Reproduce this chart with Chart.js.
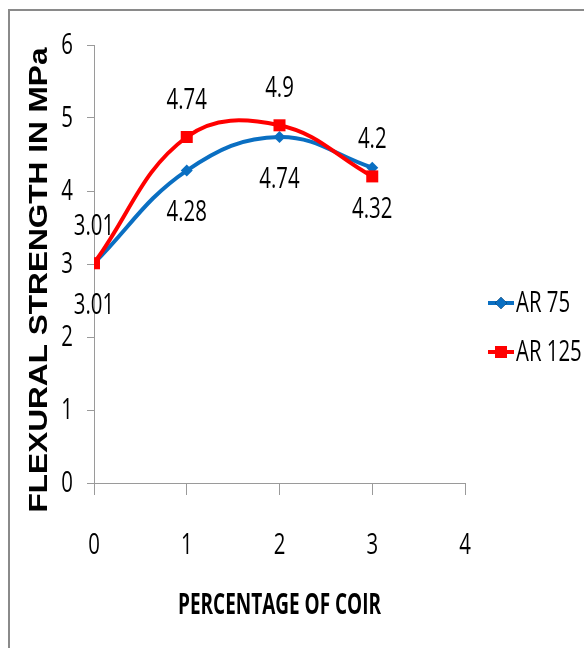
<!DOCTYPE html>
<html>
<head>
<meta charset="utf-8">
<script src="https://cdn.jsdelivr.net/npm/chart.js@4/dist/chart.umd.min.js"></script>
<style>
  html, body { margin: 0; padding: 0; background: #fff; }
  #wrap { position: relative; width: 584px; height: 648px; }
</style>
</head>
<body>
<div id="wrap"><canvas id="c" width="584" height="648"></canvas></div>
<script>
// ---- data ----
const coirPercent = [0, 1, 2, 3];
const ar75 = [3.01, 4.28, 4.74, 4.32];
const ar125 = [3.01, 4.74, 4.9, 4.2];
const seriesNames = ['AR 75', 'AR 125'];
const xTitle = 'PERCENTAGE OF COIR';
const yTitle = 'FLEXURAL STRENGTH IN MPa';

const FONT = "'Open Sans', 'Noto Sans', sans-serif";
const SX = 0.68; // horizontal squeeze to mimic a condensed face
const BLUE = '#0A6FC2';
const RED = '#FF0000';
const AXIS = '#9a9a9a';

function toPoints(xs, ys) { return xs.map((x, i) => ({ x: x, y: ys[i] })); }

function drawFit(ctx, text, cx, cy, font, targetW, rot) {
  ctx.save();
  ctx.font = font;
  const w = ctx.measureText(text).width;
  ctx.translate(cx, cy);
  if (rot) ctx.rotate(rot);
  ctx.scale(targetW / w, 1);
  ctx.textAlign = 'center';
  ctx.textBaseline = 'middle';
  ctx.fillStyle = '#000';
  ctx.fillText(text, 0, 0);
  ctx.restore();
}

function drawNarrow(ctx, text, x, y, align) {
  ctx.save();
  ctx.font = '30px ' + FONT;
  ctx.translate(x, y);
  ctx.scale(SX, 1);
  ctx.textAlign = align;
  ctx.textBaseline = 'middle';
  ctx.fillStyle = '#000';
  ctx.fillText(text, 0, 0);
  ctx.restore();
}

const decor = {
  id: 'decor',
  beforeDraw(chart) {
    const ctx = chart.ctx;
    ctx.save();
    ctx.fillStyle = '#fff';
    ctx.fillRect(0, 0, chart.width, chart.height);
    ctx.fillStyle = '#8a8a8a';
    ctx.fillRect(8, 9, chart.width - 8, 2);
    ctx.fillRect(8, 9, 2, chart.height - 9);
    ctx.restore();
  },
  afterDatasetsDraw(chart) {
    const ctx = chart.ctx;
    const xs = chart.scales.x, ys = chart.scales.y;
    // tick labels
    xs.ticks.forEach(t => drawNarrow(ctx, String(t.value), xs.getPixelForValue(t.value), 545, 'center'));
    ys.ticks.forEach(t => drawNarrow(ctx, String(t.value), 73, ys.getPixelForValue(t.value), 'right'));
    // data labels
    chart.data.datasets.forEach((ds, di) => {
      const meta = chart.getDatasetMeta(di);
      meta.data.forEach((pt, i) => {
        drawNarrow(ctx, String(ds.data[i].y), pt.x, pt.y + ds.labelOffset, 'center');
      });
    });
    // axis titles
    const ca = chart.chartArea;
    drawFit(ctx, xTitle, (ca.left + ca.right) / 2, 606, 'bold 28px ' + FONT, 203, 0);
    drawFit(ctx, yTitle, 40, 280, 'bold 25px "Liberation Sans", Arial, sans-serif', 465, -Math.PI / 2);
    // legend
    const items = [
      { name: seriesNames[0], color: BLUE, style: 'rectRot', r: 6, y: 303 },
      { name: seriesNames[1], color: RED, style: 'rect', r: 8.5, y: 352 }
    ];
    items.forEach(it => {
      ctx.save();
      ctx.strokeStyle = it.color;
      ctx.lineWidth = 4;
      ctx.beginPath();
      ctx.moveTo(488, it.y);
      ctx.lineTo(514, it.y);
      ctx.stroke();
      Chart.helpers.drawPoint(ctx, { pointStyle: it.style, radius: it.r, borderWidth: 0 }, 501, it.y);
      ctx.fillStyle = it.color;
      ctx.fill();
      ctx.restore();
      drawNarrow(ctx, it.name, 516, it.y, 'left');
    });
  }
};

new Chart(document.getElementById('c'), {
  type: 'line',
  data: {
    datasets: [
      {
        label: seriesNames[0],
        data: toPoints(coirPercent, ar75),
        borderColor: BLUE,
        backgroundColor: BLUE,
        borderWidth: 4,
        pointStyle: 'rectRot',
        pointRadius: 6,
        pointBorderWidth: 0,
        tension: 0.4,
        order: 1,
        labelOffset: 42
      },
      {
        label: seriesNames[1],
        data: toPoints(coirPercent, ar125),
        borderColor: RED,
        backgroundColor: RED,
        borderWidth: 4,
        pointStyle: 'rect',
        pointRadius: 8.5,
        pointBorderWidth: 0,
        tension: 0.4,
        order: 0,
        labelOffset: -37
      }
    ]
  },
  options: {
    responsive: false,
    animation: false,
    devicePixelRatio: 1,
    layout: { padding: { top: 45, right: 119, left: 0, bottom: 0 } },
    plugins: { legend: { display: false }, tooltip: { enabled: false } },
    scales: {
      x: {
        type: 'linear',
        min: 0, max: 4,
        afterFit(s) { s.height = 165; },
        ticks: { stepSize: 1, color: 'rgba(0,0,0,0)', font: { family: FONT, size: 20 }, padding: 38 },
        grid: { drawOnChartArea: false, drawTicks: true, tickLength: 12, color: AXIS },
        border: { color: AXIS, width: 1 }
      },
      y: {
        min: 0, max: 6,
        afterFit(s) { s.width = 94; },
        ticks: { stepSize: 1, color: 'rgba(0,0,0,0)', font: { family: FONT, size: 20 }, padding: 14 },
        grid: { drawOnChartArea: false, drawTicks: true, tickLength: 7, color: AXIS },
        border: { color: AXIS, width: 1 }
      }
    }
  },
  plugins: [decor]
});
</script>
</body>
</html>
